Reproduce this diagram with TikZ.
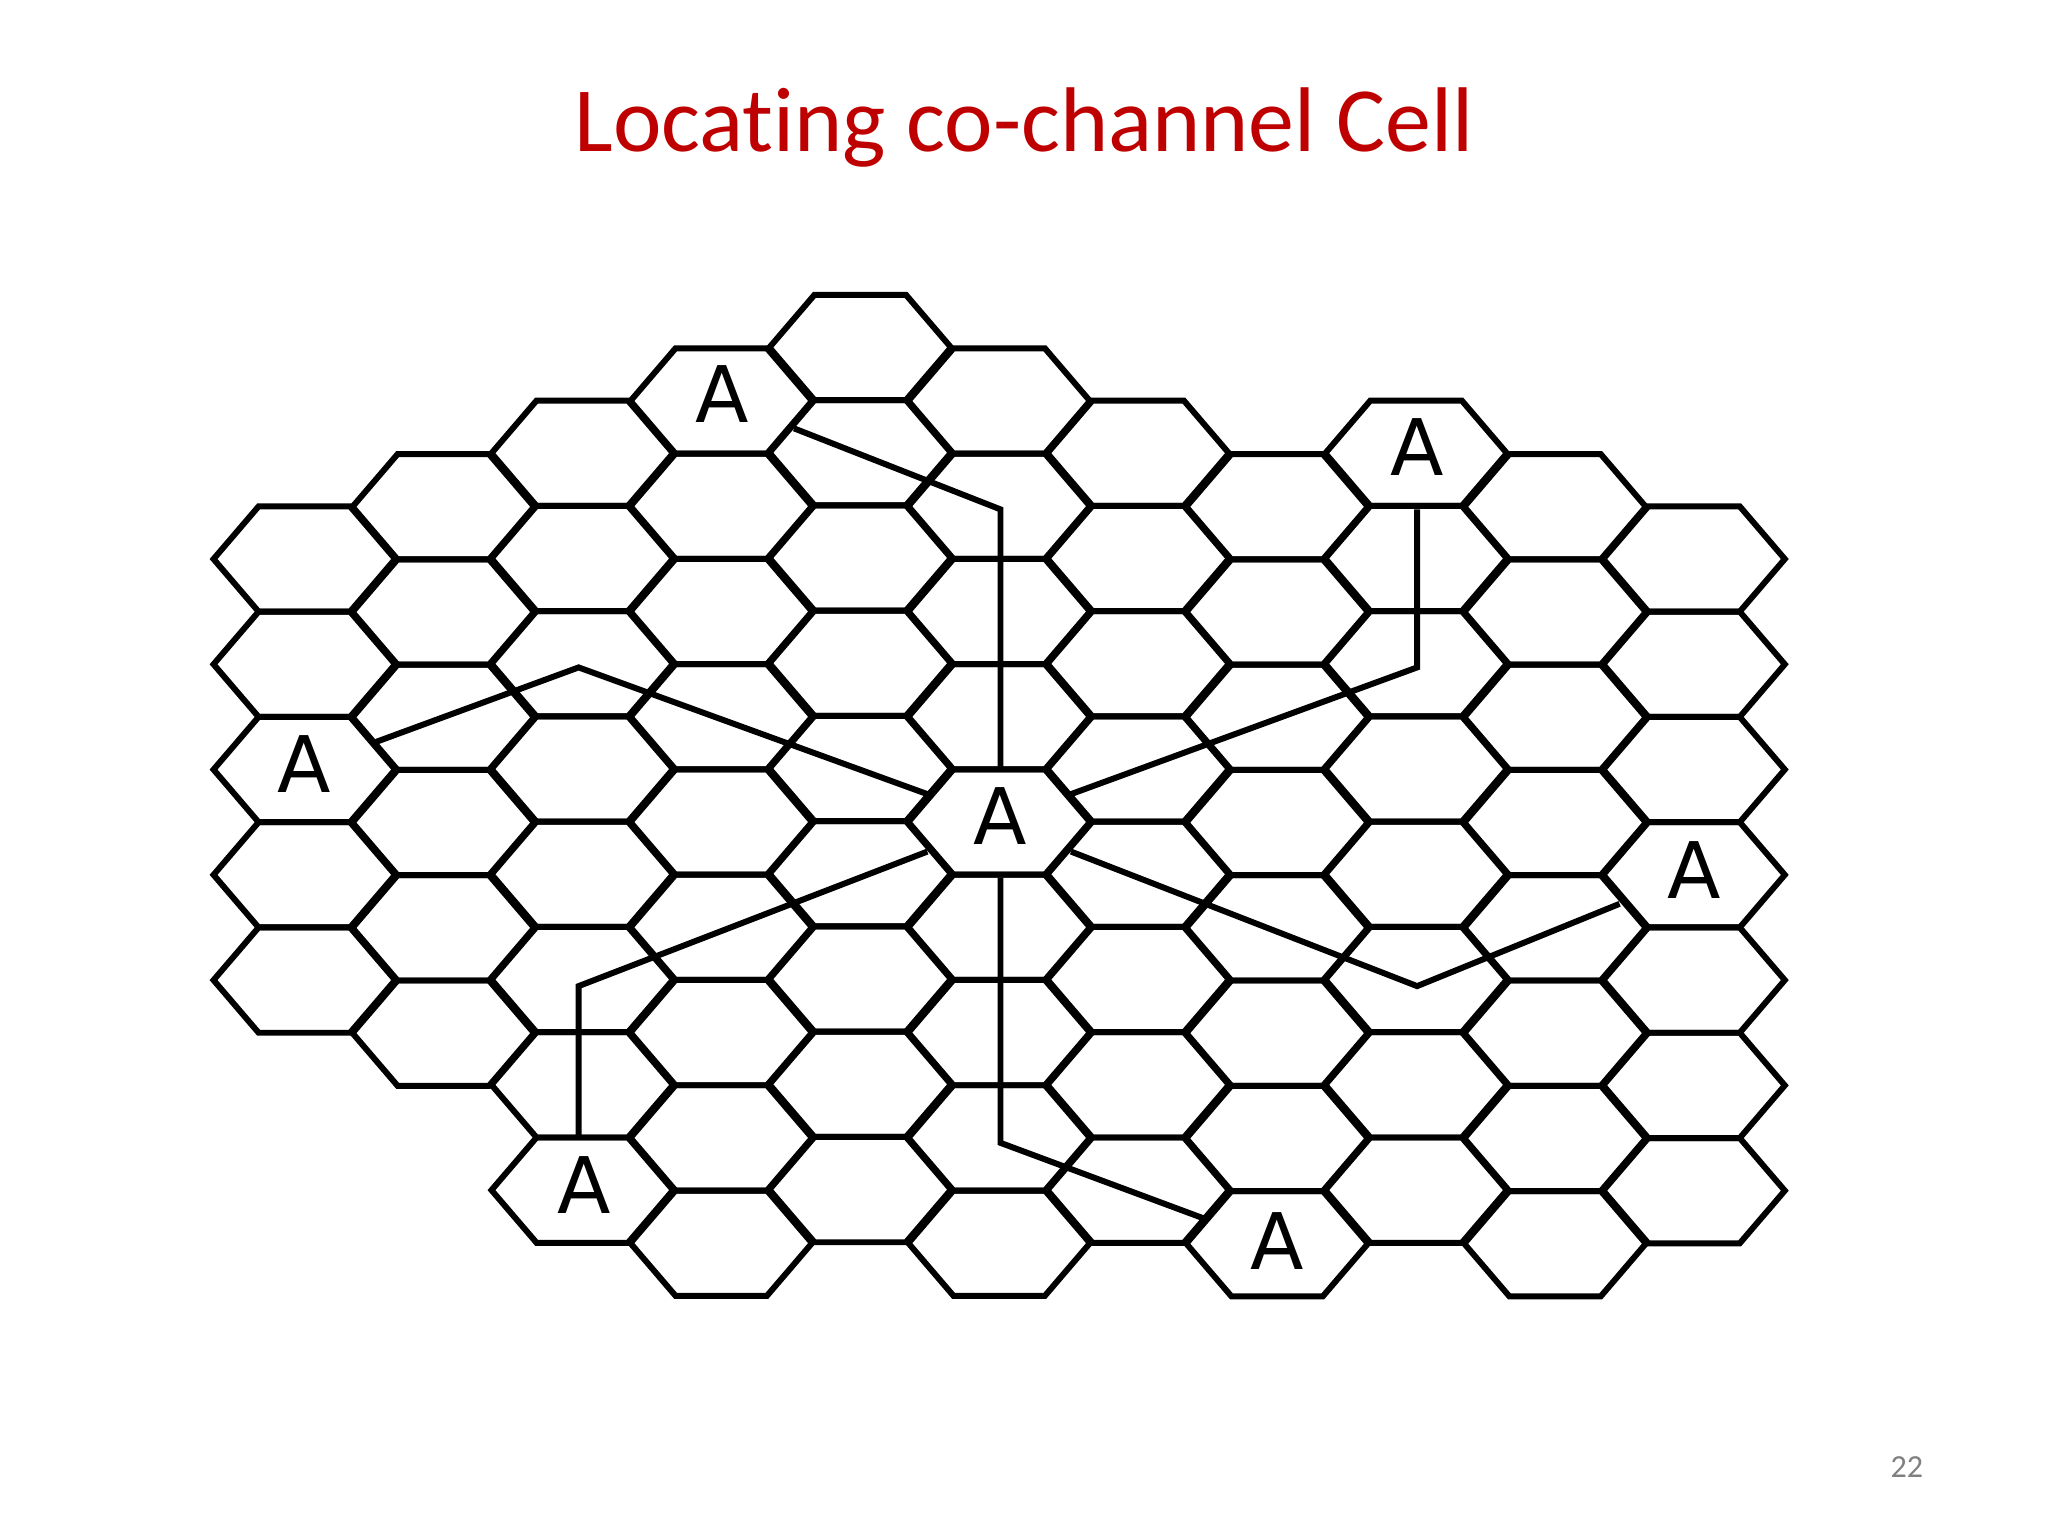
\documentclass[tikz,border=0pt]{standalone}
\usepackage{fontspec}
\setmainfont[Ligatures=NoCommon]{Carlito}
\newfontfamily\glyphfont{DejaVu Sans}
\begin{document}
\begin{tikzpicture}[x=0.01cm,y=-0.01cm,line join=miter]
\tikzset{hexline/.style={line width=1.3pt},link/.style={line width=1.3pt},
 alabel/.style={font=\glyphfont\fontsize{17}{17}\selectfont,inner sep=0pt}}
\useasboundingbox (0,0) rectangle (1568,1176);
\fill[white] (0,0) rectangle (1568,1176);
\node[text=red!75!black,font=\fontsize{20}{20}\selectfont] (title) at (784,98) {Locating co-channel Cell};
\node[text=gray,font=\fontsize{7}{7}\selectfont] (pg) at (1460,1123) {22};
\foreach \i/\f/\n in {1/428/5,2/388/6,3/347/8,4/307/9,5/266/9,6/307/9,7/347/8,8/388/8,9/347/8,10/388/8,11/428/7}{
  \pgfmathsetmacro{\cx}{233+106.4*(\i-1)}
  \foreach \k in {1,...,\n}{
    \pgfmathsetmacro{\cy}{\f+80.6*(\k-1)}
    \draw[hexline] (\cx-69.5,\cy) -- (\cx-35,\cy-40.3) -- (\cx+35,\cy-40.3) -- (\cx+69.5,\cy) -- (\cx+35,\cy+40.3) -- (\cx-35,\cy+40.3) -- cycle;
  }
}
\node[alabel] (ac) at (766,625) {A};
\node[alabel] (at) at (553,302) {A};
\node[alabel] (atr) at (1085,342) {A};
\node[alabel] (al) at (233,585) {A};
\node[alabel] (abl) at (447,907) {A};
\node[alabel] (ab) at (978,950) {A};
\node[alabel] (ar) at (1297,666) {A};
\coordinate (c1) at (766,590); \coordinate (b1) at (766,390); \coordinate (e1) at (608,328);
\coordinate (c2) at (820,608); \coordinate (b2) at (1085,511); \coordinate (e2) at (1085,390);
\coordinate (c3) at (710,608); \coordinate (b3) at (443,511); \coordinate (e3) at (288,568);
\coordinate (c4) at (710,652); \coordinate (b4) at (443,755); \coordinate (e4) at (443,870);
\coordinate (c5) at (766,672); \coordinate (b5) at (766,875); \coordinate (e5) at (922,933);
\coordinate (c6) at (820,652); \coordinate (b6) at (1085,755); \coordinate (e6) at (1240,692);
\foreach \j in {1,...,6}{\draw[link] (c\j) -- (b\j) -- (e\j);}
\end{tikzpicture}
\end{document}
